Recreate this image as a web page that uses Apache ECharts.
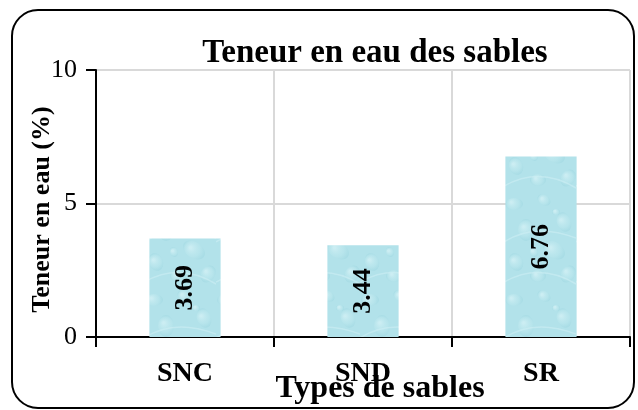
<!DOCTYPE html>
<html>
<head>
<meta charset="utf-8">
<script src="https://cdn.jsdelivr.net/npm/echarts@6/dist/echarts.min.js"></script>
<style>
  html, body { margin: 0; padding: 0; background: #fff; }
  #chart { width: 638px; height: 410px; }
</style>
</head>
<body>
<div id="chart"></div>
<script>
// Sand types and their water content (%)
const categories = ['SNC', 'SND', 'SR'];
const waterContent = [3.69, 3.44, 6.76];
const yTicks = [0, 5, 10];

const serif = "'Liberation Serif', 'Times New Roman', serif";

// Water-drop texture used to fill the bars
function dropTexture() {
  const c = document.createElement('canvas');
  c.width = 72; c.height = 96;
  const g = c.getContext('2d');
  g.fillStyle = '#b2e2ea';
  g.fillRect(0, 0, c.width, c.height);
  const drops = [
    [10, 12, 9, 6], [40, 8, 7, 5], [60, 30, 10, 7], [22, 38, 8, 11],
    [50, 58, 12, 8], [12, 70, 9, 7], [34, 84, 8, 6], [64, 82, 7, 9],
    [30, 60, 5, 4], [52, 20, 4, 3]
  ];
  drops.forEach(([x, y, rx, ry], i) => {
    const grd = g.createRadialGradient(x - rx * 0.3, y - ry * 0.3, 1, x, y, Math.max(rx, ry));
    grd.addColorStop(0, 'rgba(214,242,246,0.7)');
    grd.addColorStop(0.6, 'rgba(190,232,238,0.4)');
    grd.addColorStop(1, 'rgba(150,210,221,0.4)');
    g.fillStyle = grd;
    g.beginPath();
    g.ellipse(x, y, rx, ry, (i % 3) * 0.6, 0, Math.PI * 2);
    g.fill();
  });
  g.strokeStyle = 'rgba(205,238,243,0.6)';
  g.lineWidth = 1.5;
  g.beginPath();
  g.moveTo(0, 50); g.quadraticCurveTo(30, 30, 72, 46);
  g.moveTo(0, 90); g.quadraticCurveTo(36, 70, 72, 92);
  g.stroke();
  return c;
}

const chart = echarts.init(document.getElementById('chart'), null, { renderer: 'canvas' });

chart.setOption({
  animation: false,
  backgroundColor: '#fff',
  title: {
    text: 'Teneur en eau des sables',
    left: 370,
    textAlign: 'center',
    top: 32,
    textStyle: { fontFamily: serif, fontWeight: 'bold', fontSize: 33, color: '#000' }
  },
  graphic: [{
    type: 'rect',
    shape: { x: 12, y: 10, width: 622, height: 398, r: 26 },
    style: { fill: 'none', stroke: '#000', lineWidth: 2 },
    z: 100
  }],
  grid: { left: 96, right: 8, top: 70, bottom: 73, outerBoundsMode: 'none' },
  xAxis: {
    type: 'category',
    data: categories,
    name: 'Types de sables',
    nameLocation: 'middle',
    nameGap: 36,
    nameMoveOverlap: false,
    nameTextStyle: { fontFamily: serif, fontWeight: 'bold', fontSize: 32, color: '#000', padding: [0, 0, 0, 34] },
    axisLine: { lineStyle: { color: '#000', width: 2 } },
    axisTick: { show: true, length: 10, lineStyle: { color: '#000', width: 2 } },
    axisLabel: { fontFamily: serif, fontWeight: 'bold', fontSize: 28, color: '#000', margin: 23 },
    splitLine: { show: true, lineStyle: { color: '#d9d9d9', width: 2 } }
  },
  yAxis: {
    type: 'value',
    min: yTicks[0],
    max: yTicks[yTicks.length - 1],
    interval: yTicks[1] - yTicks[0],
    name: 'Teneur en eau (%)',
    nameLocation: 'middle',
    nameGap: 41,
    nameMoveOverlap: false,
    nameTextStyle: { fontFamily: serif, fontWeight: 'bold', fontSize: 26, color: '#000', padding: [0, 12, 0, 0] },
    axisLine: { show: true, lineStyle: { color: '#000', width: 2 } },
    axisTick: { show: true, length: 10, lineStyle: { color: '#000', width: 2 } },
    axisLabel: { fontFamily: serif, fontSize: 26, color: '#000', margin: 19 },
    splitLine: { show: true, lineStyle: { color: '#d9d9d9', width: 2 } }
  },
  series: [{
    type: 'bar',
    data: waterContent,
    barWidth: '40%',
    itemStyle: { color: { image: dropTexture(), repeat: 'repeat' } },
    label: {
      show: true,
      position: 'inside',
      rotate: 90,
      formatter: p => p.value.toFixed(2),
      fontFamily: serif,
      fontWeight: 'bold',
      fontSize: 26,
      color: '#000'
    }
  }]
});
</script>
</body>
</html>
